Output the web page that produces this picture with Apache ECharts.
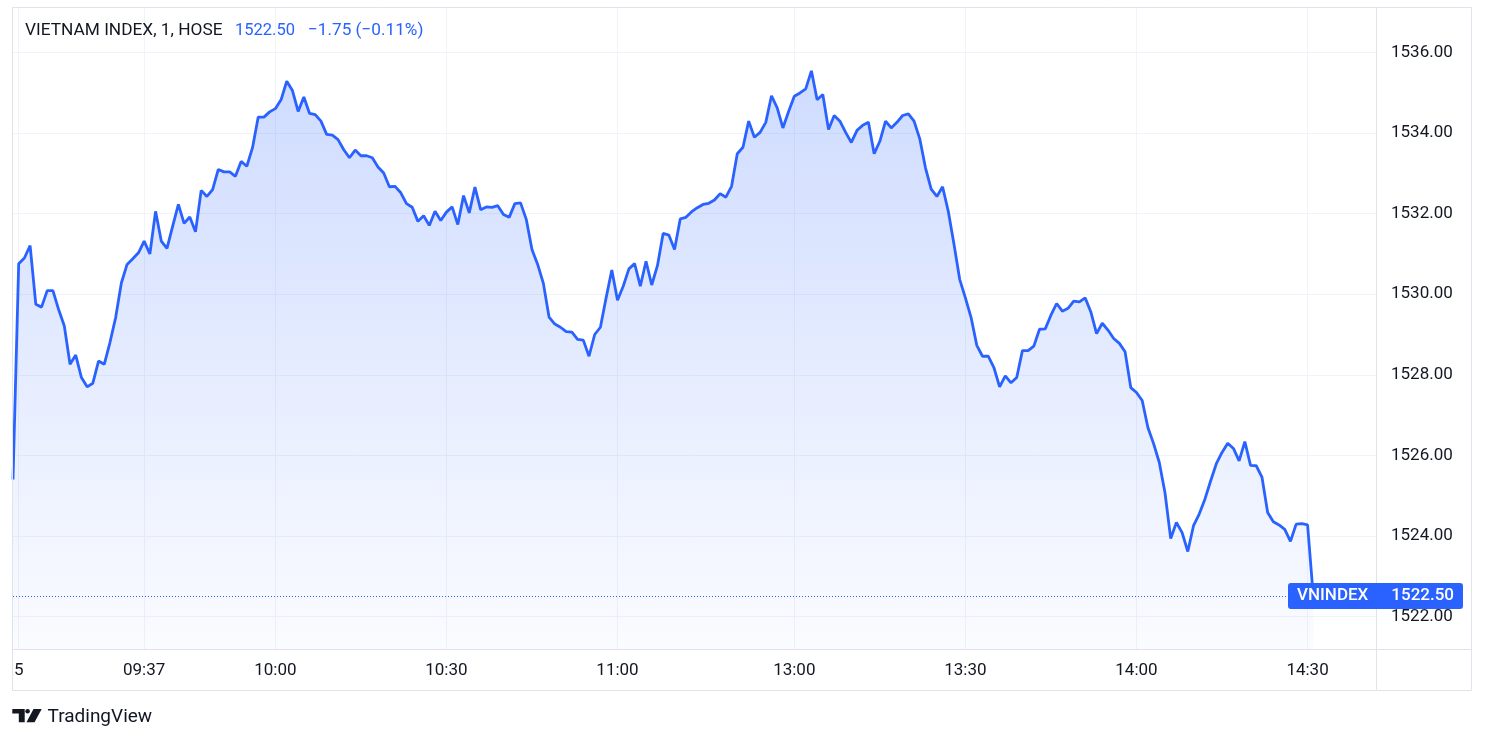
<!DOCTYPE html>
<html><head><meta charset="utf-8">
<script src="https://cdn.jsdelivr.net/npm/echarts@6/dist/echarts.min.js"></script>
<style>html,body{margin:0;padding:0;background:#fff;}#c{width:1486px;height:744px;}</style>
</head><body><div id="c"></div>
<script>
// ---------- data ----------
const titleText = 'VIETNAM INDEX, 1, HOSE';
const lastPriceText = '1522.50';
const changeText = '\u22121.75 (\u22120.11%)';
const symbolText = 'VNINDEX';
const yTickValues = [1522, 1524, 1526, 1528, 1530, 1532, 1534, 1536];
const timeTickCats = ['09:15', '09:37', '10:00', '10:30', '11:00', '13:00', '13:30', '14:00', '14:30'];
const timeTickTexts = ['5', '09:37', '10:00', '10:30', '11:00', '13:00', '13:30', '14:00', '14:30'];
// session segments (minute bars), used to build category list
const sessionMorning = ['09:15', '11:30'];
const sessionAfternoon = ['13:00', '14:30'];
const preBar = '09:14';
const closeBar = '14:45';
const futureBars = ['14:46','14:47','14:48','14:49','14:50','14:51','14:52','14:53','14:54','14:55','14:56'];
const values = [
1525.40,1530.76,1530.90,1531.21,1529.75,1529.68,1530.09,1530.09,1529.62,1529.21,
1528.26,1528.49,1527.93,1527.70,1527.79,1528.34,1528.26,1528.80,1529.42,1530.28,
1530.74,1530.88,1531.03,1531.32,1531.00,1532.06,1531.32,1531.14,1531.69,1532.23,
1531.76,1531.92,1531.55,1532.58,1532.43,1532.60,1533.10,1533.04,1533.04,1532.93,
1533.30,1533.18,1533.64,1534.40,1534.40,1534.53,1534.61,1534.83,1535.29,1535.06,
1534.54,1534.90,1534.49,1534.46,1534.30,1533.97,1533.95,1533.84,1533.59,1533.39,
1533.58,1533.44,1533.44,1533.39,1533.16,1533.01,1532.67,1532.68,1532.52,1532.25,
1532.16,1531.81,1531.95,1531.71,1532.06,1531.83,1532.04,1532.17,1531.73,1532.45,
1532.02,1532.66,1532.10,1532.17,1532.16,1532.20,1531.98,1531.91,1532.25,1532.27,
1531.86,1531.11,1530.74,1530.27,1529.43,1529.26,1529.18,1529.07,1529.06,1528.88,
1528.86,1528.46,1529.00,1529.18,1529.91,1530.60,1529.85,1530.20,1530.63,1530.76,
1530.20,1530.82,1530.23,1530.71,1531.51,1531.47,1531.11,1531.87,1531.91,1532.05,
1532.15,1532.23,1532.26,1532.34,1532.50,1532.41,1532.68,1533.49,1533.65,1534.30,
1533.90,1534.02,1534.27,1534.93,1534.63,1534.13,1534.54,1534.92,1535.00,1535.10,
1535.55,1534.83,1534.96,1534.09,1534.44,1534.30,1534.02,1533.77,1534.07,1534.20,
1534.27,1533.49,1533.80,1534.30,1534.13,1534.27,1534.44,1534.48,1534.30,1533.86,
1533.14,1532.61,1532.43,1532.67,1532.06,1531.24,1530.37,1529.91,1529.42,1528.73,
1528.46,1528.46,1528.18,1527.70,1527.97,1527.80,1527.93,1528.60,1528.60,1528.71,
1529.13,1529.14,1529.48,1529.77,1529.58,1529.65,1529.83,1529.81,1529.91,1529.56,
1529.02,1529.28,1529.11,1528.90,1528.78,1528.57,1527.68,1527.56,1527.36,1526.69,
1526.29,1525.82,1525.07,1523.93,1524.33,1524.08,1523.61,1524.25,1524.54,1524.91,
1525.36,1525.79,1526.07,1526.30,1526.17,1525.86,1526.34,1525.75,1525.74,1525.46,
1524.58,1524.35,1524.27,1524.16,1523.86,1524.29,1524.30,1524.27,1522.50
];
const lastValue = 1522.50;

// ---------- build categories ----------
function toMin(s){const p=s.split(':');return (+p[0])*60+(+p[1]);}
function toStr(m){const h=Math.floor(m/60),mm=m%60;return (h<10?'0':'')+h+':'+(mm<10?'0':'')+mm;}
const categories = [preBar];
for (let m = toMin(sessionMorning[0]); m <= toMin(sessionMorning[1]); m++) categories.push(toStr(m));
for (let m = toMin(sessionAfternoon[0]); m <= toMin(sessionAfternoon[1]); m++) categories.push(toStr(m));
categories.push(closeBar);
futureBars.forEach(function(b){categories.push(b);});

const tickSet = {};
timeTickCats.forEach(function(c,i){tickSet[c]=timeTickTexts[i];});

const chart = echarts.init(document.getElementById('c'), null, {renderer:'canvas'});
const FONT = 'Roboto, "Noto Sans", sans-serif';
const TXT = '#131722';
const BLUE = '#2962ff';
const GRID = '#f0f3fa';
const BORDER = '#e0e3eb';

chart.setOption({
  animation: false,
  backgroundColor: '#ffffff',
  grid: {left: 13, right: 110, top: 7, bottom: 95},
  xAxis: {
    type: 'category',
    data: categories,
    boundaryGap: false,
    axisLine: {show: false},
    axisTick: {show: false},
    axisLabel: {
      interval: function(i, v){ return tickSet.hasOwnProperty(v); },
      formatter: function(v){ return tickSet[v] || ''; },
      color: TXT, fontSize: 17, fontFamily: FONT, margin: 13
    },
    splitLine: {show: true, interval: function(i, v){ return tickSet.hasOwnProperty(v); },
      lineStyle: {color: GRID, width: 1}}
  },
  yAxis: {
    type: 'value',
    position: 'right',
    min: 1521.188,
    max: 1537.135,
    axisLine: {show: false},
    axisTick: {show: false, customValues: yTickValues},
    axisLabel: {customValues: yTickValues, formatter: function(v){return v.toFixed(2);},
      color: TXT, fontSize: 17, fontFamily: FONT, margin: 15},
    splitLine: {show: true, lineStyle: {color: GRID, width: 1}}
  },
  series: [{
    type: 'line',
    data: values,
    showSymbol: false,
    smooth: false,
    lineStyle: {color: BLUE, width: 2.8},
    itemStyle: {color: BLUE},
    areaStyle: {color: new echarts.graphic.LinearGradient(0,0,0,1,[
      {offset:0, color:'rgba(41,98,255,0.32)'},
      {offset:1, color:'rgba(41,98,255,0.03)'}
    ])},
    markLine: {
      silent: true, symbol: 'none',
      label: {show: false},
      lineStyle: {color: BLUE, type: [1, 2], width: 1},
      data: [{yAxis: lastValue}]
    }
  }]
});

const yLast = Math.round(chart.convertToPixel({yAxisIndex: 0}, lastValue));

chart.setOption({
  graphic: [
    {type:'rect', silent:true, z:50, shape:{x:12.5, y:7.5, width:1459, height:683}, style:{fill:null, stroke:BORDER, lineWidth:1}},
    {type:'line', silent:true, z:50, shape:{x1:12, y1:649.5, x2:1472, y2:649.5}, style:{stroke:BORDER, lineWidth:1}},
    {type:'line', silent:true, z:50, shape:{x1:1376.5, y1:7, x2:1376.5, y2:691}, style:{stroke:BORDER, lineWidth:1}},
    {type:'text', silent:true, z:60, x:25, y:31, style:{text:titleText, fill:TXT, font:'17.3px '+FONT, verticalAlign:'middle'}},
    {type:'text', silent:true, z:60, x:235, y:31, style:{text:lastPriceText, fill:BLUE, font:'16.5px '+FONT, verticalAlign:'middle'}},
    {type:'text', silent:true, z:60, x:308, y:31, style:{text:changeText, fill:BLUE, font:'17.2px '+FONT, verticalAlign:'middle'}},
    {type:'rect', silent:true, z:70, shape:{x:1288, y:yLast-13, width:175, height:26, r:3}, style:{fill:BLUE}},
    {type:'text', silent:true, z:71, x:1297, y:yLast, style:{text:symbolText, fill:'#ffffff', font:'500 17px '+FONT, verticalAlign:'middle'}},
    {type:'text', silent:true, z:71, x:1454, y:yLast, style:{text:lastPriceText, fill:'#ffffff', font:'500 17px '+FONT, verticalAlign:'middle', align:'right'}},
    // TradingView logo
    {type:'polygon', silent:true, z:60, shape:{points:[[12.3,709],[24.7,709],[24.7,722.3],[18.8,722.3],[18.8,713.5],[12.3,713.5]]}, style:{fill:TXT}},
    {type:'circle', silent:true, z:60, shape:{cx:27.6, cy:711.3, r:2.3}, style:{fill:TXT}},
    {type:'polygon', silent:true, z:60, shape:{points:[[33.5,709],[41.7,709],[34.5,722.3],[26.5,722.3]]}, style:{fill:TXT}},
    {type:'text', silent:true, z:60, x:47.5, y:717, style:{text:'TradingView', fill:TXT, font:'19px '+FONT, verticalAlign:'middle'}}
  ]
});
</script></body></html>
